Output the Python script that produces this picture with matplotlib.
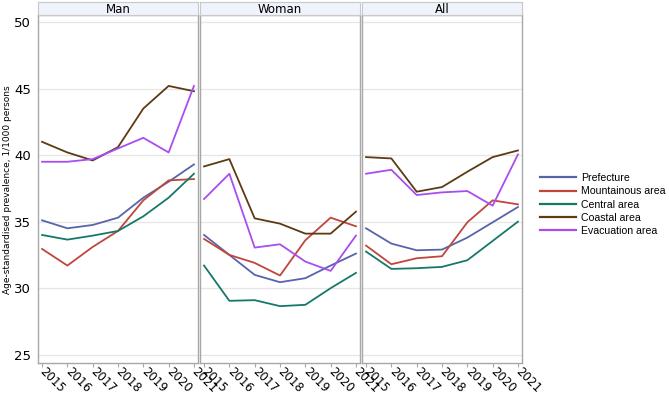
import matplotlib
matplotlib.use("Agg")
import matplotlib.pyplot as plt
from matplotlib.transforms import ScaledTranslation

# Datos
years = [2015, 2016, 2017, 2018, 2019, 2020, 2021]
panels = ["Man", "Woman", "All"]
series = ["Prefecture", "Mountainous area", "Central area", "Coastal area", "Evacuation area"]
colors = ["#5864AA", "#C0463C", "#16786A", "#5E3A14", "#A94CF2"]

man = {
    "Prefecture": [35.1, 34.5, 34.75, 35.3, 36.8, 38.0, 39.3],
    "Mountainous area": [32.95, 31.7, 33.1, 34.3, 36.6, 38.1, 38.2],
    "Central area": [34.0, 33.65, 33.95, 34.3, 35.4, 36.8, 38.6],
    "Coastal area": [41.0, 40.2, 39.6, 40.6, 43.5, 45.2, 44.8],
    "Evacuation area": [39.5, 39.5, 39.7, 40.5, 41.3, 40.2, 45.2],
}
woman = {
    "Prefecture": [34.0, 32.5, 31.0, 30.45, 30.75, 31.7, 32.6],
    "Mountainous area": [33.7, 32.5, 31.9, 30.95, 33.6, 35.3, 34.65],
    "Central area": [31.7, 29.05, 29.1, 28.65, 28.75, 30.0, 31.15],
    "Coastal area": [39.15, 39.7, 35.25, 34.85, 34.1, 34.1, 35.75],
    "Evacuation area": [36.7, 38.6, 33.05, 33.3, 32.0, 31.3, 33.95],
}
both = {
    "Prefecture": [34.5, 33.35, 32.85, 32.9, 33.8, 34.95, 36.1],
    "Mountainous area": [33.2, 31.8, 32.25, 32.4, 34.95, 36.6, 36.3],
    "Central area": [32.75, 31.45, 31.5, 31.6, 32.1, 33.55, 35.0],
    "Coastal area": [39.85, 39.75, 37.25, 37.6, 38.75, 39.85, 40.35],
    "Evacuation area": [38.6, 38.9, 37.0, 37.2, 37.3, 36.2, 40.05],
}
data = [man, woman, both]

yticks = [25, 30, 35, 40, 45, 50]

W, H = 669, 395
fig = plt.figure(figsize=(W / 100, H / 100), dpi=100)

lefts = [38, 200, 362]
width = 160
top_px, bottom_px = 15, 362.7

border = "#A8A8A8"
for i, (name, d) in enumerate(zip(panels, data)):
    ax = fig.add_axes([lefts[i] / W, 1 - bottom_px / H, width / W, (bottom_px - top_px) / H])
    for s, c in zip(series, colors):
        ax.plot(years, d[s], color=c, lw=1.3, label=s)
    ax.set_xlim(2014.84, 2021.16)
    ax.set_ylim(24.4, 50.53)
    ax.set_yticks(yticks)
    ax.yaxis.grid(True, color="#E6E6E6", lw=0.9)
    ax.set_axisbelow(True)
    ax.tick_params(axis="y", length=0, labelsize=9.5, pad=5)
    if i > 0:
        ax.tick_params(axis="y", labelleft=False)
    ax.set_xticks(years)
    ax.set_xticklabels([str(y) for y in years], rotation=-45, ha="left",
                       rotation_mode="anchor", va="center", fontsize=8.5)
    for lab in ax.get_xticklabels():
        lab.set_transform(lab.get_transform() + ScaledTranslation(-4 / 72, -4 / 72, fig.dpi_scale_trans))
    ax.tick_params(axis="x", length=3, color=border, pad=2)
    for sp in ax.spines.values():
        sp.set_color(border)
        sp.set_linewidth(1.0)

    # cabecera del panel
    sax = fig.add_axes([lefts[i] / W, 1 - top_px / H, width / W, 13 / H])
    sax.set_facecolor("#EFF3FB")
    sax.set_xticks([])
    sax.set_yticks([])
    for sp in sax.spines.values():
        sp.set_color("#C8C8C8")
        sp.set_linewidth(0.8)
    sax.text(0.5, 0.45, name, ha="center", va="center", fontsize=8.5, transform=sax.transAxes)

fig.text(8 / W, 1 - 190 / H, "Age-standardised prevalence, 1/1000 persons",
         rotation=90, ha="center", va="center", fontsize=6.5)

handles = [plt.Line2D([], [], color=c, lw=1.6) for c in colors]
fig.legend(handles, series, loc="center left", bbox_to_anchor=(540 / W, 1 - 204.5 / H),
           frameon=False, prop={"family": "Liberation Sans", "size": 7.6}, handlelength=3.4,
           handletextpad=0.5, labelspacing=0.3, borderaxespad=0, borderpad=0)

plt.savefig("out.png", dpi=100)
